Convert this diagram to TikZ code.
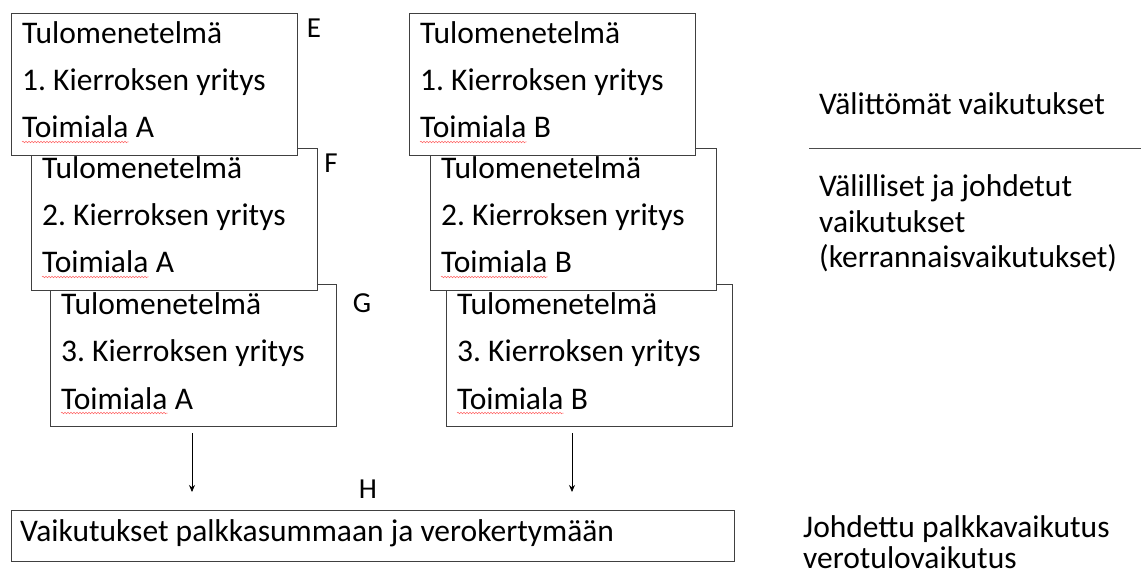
\documentclass[tikz,border=0pt]{standalone}
\usepackage{fontspec}
\setmainfont{Carlito}
\usetikzlibrary{positioning,arrows.meta,decorations.pathmorphing}
\frenchspacing

\tikzset{
  yritys/.style={draw=black!75, fill=white, line width=0.9pt, anchor=north west,
    minimum width=286pt, minimum height=142pt, inner sep=0pt},
  rivi/.style={anchor=base west, inner sep=0pt, font=\fontsize{31.5}{37}\selectfont},
  kirjain/.style={anchor=base, inner sep=0pt, font=\fontsize{29}{34}\selectfont},
  spell/.style={draw=red!60, line width=0.5pt, decorate,
    decoration={snake, segment length=3pt, amplitude=0.8pt}},
  nuoli/.style={-{Stealth[length=7pt,width=6pt]}, line width=0.8pt},
}

\begin{document}
\begin{tikzpicture}[x=1pt, y=-1pt]
    \useasboundingbox (0,0) rectangle (1141,577);
    % Boxes (back to front)
    \foreach \nm/\x/\y/\k/\t in {a3/50/284/3/A, a2/31/148/2/A, a1/11/13/1/A,
                                 b3/446/284/3/B, b2/430/148/2/B, b1/409/13/1/B} {
        \node[yritys] (\nm) at (\x,\y) {};
        \node[rivi] (\nm-1) at ([shift={(11,31)}]\nm.north west) {Tulomenetelmä};
        \node[rivi] (\nm-2) at ([shift={(11,78)}]\nm.north west) {\k. Kierroksen yritys};
        \node[rivi] (\nm-3) at ([shift={(11,125)}]\nm.north west) {Toimiala};
        \node[rivi] (\nm-4) at ([xshift=7pt]\nm-3.base east) {\t};
        \draw[spell] ([yshift=-4pt]\nm-3.base west) -- ([yshift=-4pt]\nm-3.base east); % spell check
    }
    % Letters
    \node[kirjain] (e) at (314,38) {E};
    \node[kirjain] (f) at (331,173) {F};
    \node[kirjain] (g) at (362,313) {G};
    \node[kirjain] (h) at (368,498) {H};
    % Result box
    \node[draw=black!75, line width=0.9pt, anchor=north west, minimum width=723pt,
          minimum height=51pt, inner sep=0pt] (tulos) at (11,510) {};
    \node[rivi] (tulos-1) at (20,541) {Vaikutukset palkkasummaan ja verokertymään};
    % Right side texts
    \node[rivi] (suorat) at (819,115) {Välittömät vaikutukset};
    \node[rivi] (epasuorat-1) at (819,197) {Välilliset ja johdetut};
    \node[rivi] (epasuorat-2) at (819,233) {vaikutukset};
    \node[rivi] (epasuorat-3) at (819,268) {(kerrannaisvaikutukset)};
    \node[rivi] (johdettu-1) at (803,537) {Johdettu palkkavaikutus};
    \node[rivi] (johdettu-2) at (803,568) {verotulovaikutus};
    % Divider
    \coordinate (raja1) at (809,148);
    \coordinate (raja2) at (1141,148);
    \draw[black!70, line width=0.9pt] (raja1) -- (raja2);
    % Arrows
    \coordinate (vasen1) at (192,433);
    \coordinate (vasen2) at (192,492);
    \coordinate (oikea1) at (572,433);
    \coordinate (oikea2) at (572,492);
    \draw[nuoli] (vasen1) -- (vasen2);
    \draw[nuoli] (oikea1) -- (oikea2);
\end{tikzpicture}
\end{document}
